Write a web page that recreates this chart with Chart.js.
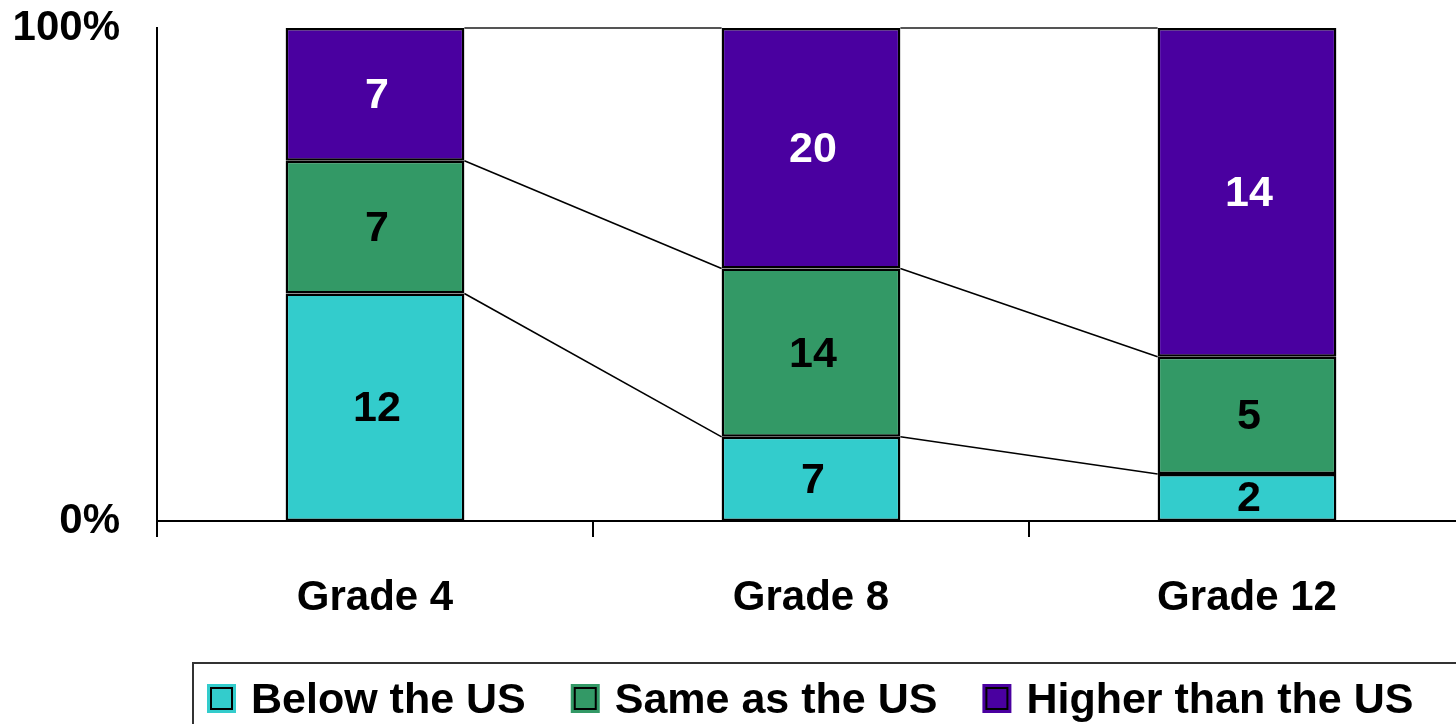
<!DOCTYPE html>
<html lang="en">
<head>
    <meta charset="UTF-8">
    <title>Grades compared with the US</title>
    <script src="https://cdn.jsdelivr.net/npm/chart.js"></script>
    <style>
        body { margin: 0; background: #fff; overflow: hidden; }
    </style>
</head>
<body>
    <canvas id="gradeChart" width="1480" height="724"></canvas>
    <script>
        var categories = ['Grade 4', 'Grade 8', 'Grade 12'];
        var seriesNames = ['Below the US', 'Same as the US', 'Higher than the US'];
        var belowUS = [12, 7, 2];
        var sameAsUS = [7, 14, 5];
        var higherThanUS = [7, 20, 14];
        var yTicks = [0, 100];

        var counts = [belowUS, sameAsUS, higherThanUS];
        var colors = ['#33cccc', '#339966', '#4a00a0'];
        var labelColors = ['#000', '#000', '#fff'];
        var fontFamily = '"Liberation Sans", Arial, sans-serif';

        // each column is scaled to 100%
        var totals = categories.map(function (c, i) {
            return belowUS[i] + sameAsUS[i] + higherThanUS[i];
        });

        var datasets = counts.map(function (arr, k) {
            return {
                label: seriesNames[k],
                data: arr.map(function (v, i) { return v / totals[i] * 100; }),
                counts: arr,
                backgroundColor: colors[k],
                borderColor: '#000',
                borderWidth: 2.5,
                borderSkipped: false,
                categoryPercentage: 1,
                barPercentage: 0.41
            };
        });

        // thin lines joining the segment edges of neighbouring columns
        var seriesLines = {
            id: 'seriesLines',
            beforeDatasetsDraw: function (chart) {
                var ctx = chart.ctx;
                var y = chart.scales.y;
                var metas = chart.data.datasets.map(function (d, k) { return chart.getDatasetMeta(k); });
                ctx.save();
                for (var i = 0; i < categories.length - 1; i++) {
                    var a = metas[0].data[i], b = metas[0].data[i + 1];
                    var x1 = a.x + a.width / 2, x2 = b.x - b.width / 2;
                    var cumA = 0, cumB = 0;
                    for (var k = 0; k < metas.length; k++) {
                        cumA += chart.data.datasets[k].data[i];
                        cumB += chart.data.datasets[k].data[i + 1];
                        ctx.beginPath();
                        ctx.strokeStyle = k === metas.length - 1 ? '#555' : '#000';
                        ctx.lineWidth = k === metas.length - 1 ? 2 : 1.6;
                        ctx.moveTo(x1, y.getPixelForValue(cumA));
                        ctx.lineTo(x2, y.getPixelForValue(cumB));
                        ctx.stroke();
                    }
                }
                ctx.restore();
            }
        };

        // counts written in the middle of each segment
        var segmentLabels = {
            id: 'segmentLabels',
            afterDatasetsDraw: function (chart) {
                var ctx = chart.ctx;
                ctx.save();
                ctx.font = 'bold 43px ' + fontFamily;
                ctx.textAlign = 'center';
                ctx.textBaseline = 'middle';
                chart.data.datasets.forEach(function (ds, k) {
                    chart.getDatasetMeta(k).data.forEach(function (bar, i) {
                        ctx.fillStyle = labelColors[k];
                        ctx.fillText(String(ds.counts[i]), bar.x + 2, (bar.y + bar.base) / 2 + 2);
                    });
                });
                ctx.restore();
            }
        };

        // boxed legend along the bottom
        var boxLegend = {
            id: 'boxLegend',
            afterDraw: function (chart) {
                var ctx = chart.ctx;
                ctx.save();
                ctx.strokeStyle = '#333';
                ctx.lineWidth = 2;
                ctx.strokeRect(193, 663, 1400, 200);
                ctx.font = 'bold 43px ' + fontFamily;
                ctx.textBaseline = 'alphabetic';
                var x = 207;
                chart.data.datasets.forEach(function (ds, k) {
                    ctx.fillStyle = colors[k];
                    ctx.fillRect(x, 684, 29, 29);
                    ctx.strokeStyle = '#000';
                    ctx.lineWidth = 2;
                    ctx.strokeRect(x + 4, 688, 21, 21);
                    ctx.fillStyle = '#000';
                    ctx.fillText(ds.label, x + 44, 713);
                    x += 44 + ctx.measureText(ds.label).width + 45;
                });
                ctx.restore();
            }
        };

        var ctx = document.getElementById('gradeChart').getContext('2d');
        var gradeChart = new Chart(ctx, {
            type: 'bar',
            data: { labels: categories, datasets: datasets },
            options: {
                responsive: false,
                animation: false,
                layout: { padding: { left: 0, top: 28, right: 15, bottom: 0 } },
                plugins: {
                    legend: { display: false },
                    tooltip: { enabled: false }
                },
                scales: {
                    x: {
                        stacked: true,
                        afterFit: function (scale) { scale.height = 203; },
                        grid: {
                            display: true,
                            drawOnChartArea: false,
                            drawTicks: true,
                            tickLength: 16,
                            color: '#000',
                            lineWidth: 2
                        },
                        border: { display: true, color: '#000', width: 2 },
                        ticks: {
                            padding: 36,
                            color: '#000',
                            font: { family: fontFamily, size: 42, weight: 'bold' }
                        }
                    },
                    y: {
                        stacked: true,
                        min: 0,
                        max: 100,
                        afterFit: function (scale) {
                            scale.width = 157;
                            scale.paddingTop = 0;
                            scale.paddingBottom = 0;
                        },
                        afterBuildTicks: function (scale) {
                            scale.ticks = yTicks.map(function (v) { return { value: v }; });
                        },
                        grid: { display: false, drawTicks: false },
                        border: { display: true, color: '#000', width: 2 },
                        ticks: {
                            padding: 37,
                            color: '#000',
                            font: { family: fontFamily, size: 42, weight: 'bold' },
                            callback: function (v) { return v + '%'; }
                        }
                    }
                }
            },
            plugins: [seriesLines, segmentLabels, boxLegend]
        });
    </script>
</body>
</html>
